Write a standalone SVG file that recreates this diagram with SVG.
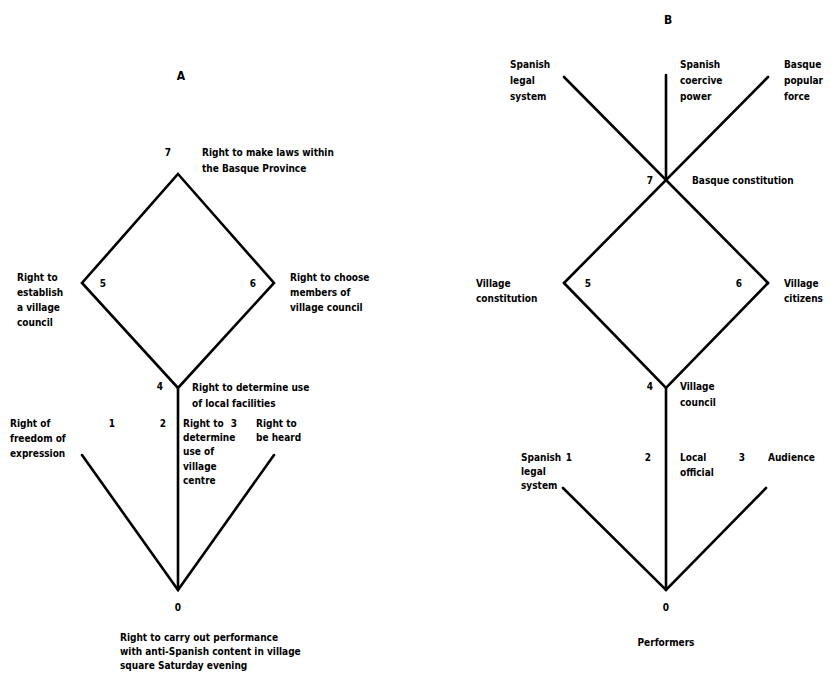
<svg xmlns="http://www.w3.org/2000/svg" width="840" height="688" viewBox="0 0 840 688">
<style>
text{font-family:"DejaVu Sans Condensed","Liberation Sans Narrow","Liberation Sans",sans-serif;font-weight:bold;font-size:10px;fill:#000}
.t{font-size:12px}
.c{text-anchor:middle}
line,polyline,polygon{stroke:#000;stroke-width:2.6;fill:none;stroke-linecap:round;stroke-linejoin:miter}
</style>
<rect width="840" height="688" fill="#fff"/>
<g id="connectors">
<polygon points="178,174 274,283 178,388 82,283"/>
<line x1="178" y1="388" x2="178" y2="590"/>
<polyline points="82,455 178,590 274,455"/>
<line x1="564" y1="77" x2="768" y2="283"/>
<line x1="768" y1="77" x2="564" y2="283"/>
<polyline points="564,283 666,388 768,283"/>
<line x1="666" y1="75" x2="666" y2="180"/>
<line x1="666" y1="388" x2="666" y2="590"/>
<polyline points="563,488 666,590 766,488"/>
</g>
<g id="titleA"><text class="t c" x="181" y="80">A</text></g>
<g id="titleB"><text class="t c" x="668" y="24">B</text></g>
<g id="a7"><text class="c" x="168" y="156">7</text><text x="202" y="156">Right to make laws within</text><text x="202" y="172">the Basque Province</text></g>
<g id="a5"><text class="c" x="103" y="287">5</text><text x="17" y="281">Right to</text><text x="17" y="296">establish</text><text x="17" y="311">a village</text><text x="17" y="326">council</text></g>
<g id="a6"><text class="c" x="253" y="287">6</text><text x="290" y="281">Right to choose</text><text x="290" y="296">members of</text><text x="290" y="311">village council</text></g>
<g id="a4"><text class="c" x="160" y="390">4</text><text x="192" y="391">Right to determine use</text><text x="192" y="407">of local facilities</text></g>
<g id="a1"><text class="c" x="112" y="427">1</text><text x="10" y="427">Right of</text><text x="10" y="442">freedom of</text><text x="10" y="457">expression</text></g>
<g id="a2"><text class="c" x="163" y="427">2</text><text x="183" y="427">Right to</text><text x="183" y="441">determine</text><text x="183" y="455">use of</text><text x="183" y="470">village</text><text x="183" y="484">centre</text></g>
<g id="a3"><text class="c" x="234" y="427">3</text><text x="256" y="427">Right to</text><text x="256" y="441">be heard</text></g>
<g id="a0"><text class="c" x="178" y="611">0</text><text x="120" y="641">Right to carry out performance</text><text x="120" y="655">with anti-Spanish content in village</text><text x="120" y="669">square Saturday evening</text></g>
<g id="bLegalTop"><text x="510" y="68">Spanish</text><text x="510" y="84">legal</text><text x="510" y="100">system</text></g>
<g id="bCoercive"><text x="680" y="68">Spanish</text><text x="680" y="84">coercive</text><text x="680" y="100">power</text></g>
<g id="bPopular"><text x="784" y="68">Basque</text><text x="784" y="84">popular</text><text x="784" y="100">force</text></g>
<g id="b7"><text class="c" x="650" y="184">7</text><text x="692" y="184">Basque constitution</text></g>
<g id="b5"><text class="c" x="588" y="287">5</text><text x="476" y="287">Village</text><text x="476" y="302">constitution</text></g>
<g id="b6"><text class="c" x="739" y="287">6</text><text x="784" y="287">Village</text><text x="784" y="302">citizens</text></g>
<g id="b4"><text class="c" x="650" y="390">4</text><text x="680" y="390">Village</text><text x="680" y="406">council</text></g>
<g id="b1"><text class="c" x="569" y="461">1</text><text x="521" y="461">Spanish</text><text x="521" y="475">legal</text><text x="521" y="489">system</text></g>
<g id="b2"><text class="c" x="648" y="461">2</text><text x="680" y="461">Local</text><text x="680" y="476">official</text></g>
<g id="b3"><text class="c" x="742" y="461">3</text><text x="768" y="461">Audience</text></g>
<g id="b0"><text class="c" x="666" y="611">0</text><text class="c" x="666" y="646">Performers</text></g>
</svg>
